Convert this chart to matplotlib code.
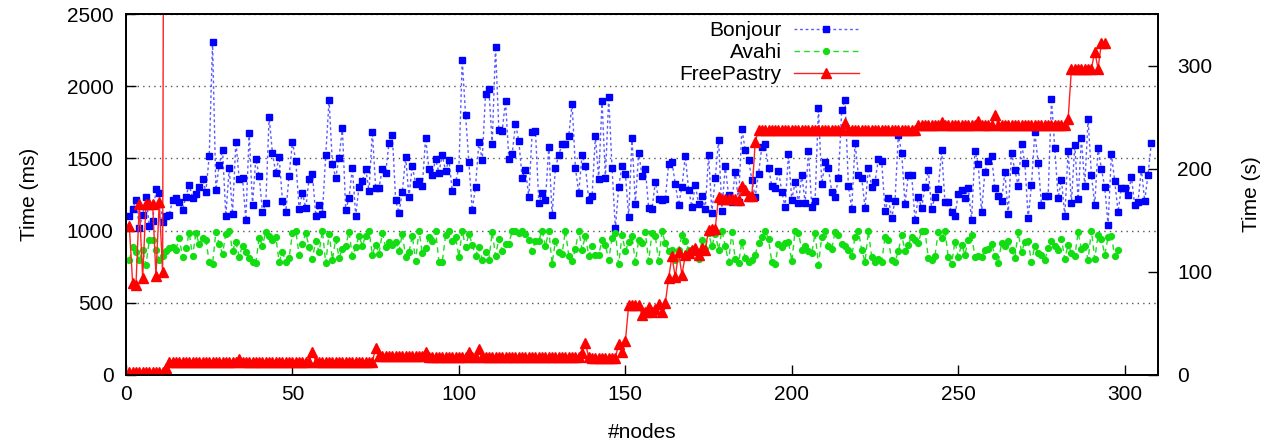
import numpy as np
import matplotlib.pyplot as plt

plt.rcParams['font.family'] = ['Liberation Sans', 'DejaVu Sans']

# Bonjour response time (ms), nodes 1..308
bonjour = [1104, 1150, 1212, 1021, 1109, 1233, 1035, 1069, 1289, 1261,
           1060, 1104, 1111, 1212, 1226, 1199, 1143, 1236, 1316, 1226,
           1254, 1303, 1358, 1268, 1517, 2305, 1282, 1455, 1559, 1102,
           1434, 1115, 1614, 1358, 1365, 1074, 1675, 1178, 1497, 1379,
           1129, 1192, 1788, 1534, 1400, 1510, 1206, 1132, 1381, 1614,
           1483, 1150, 1261, 1157, 1360, 1393, 1104, 1178, 1118, 1524,
           1906, 1462, 1365, 1506, 1711, 1143, 1226, 1434, 1104, 1303,
           1344, 1427, 1275, 1684, 1296, 1296, 1427, 1400, 1607, 1663,
           1212, 1122, 1268, 1510, 1233, 1448, 1323, 1344, 1310, 1642,
           1427, 1388, 1497, 1400, 1524, 1413, 1490, 1275, 1337, 1434,
           2183, 1802, 1476, 1143, 1305, 1614, 1490, 1947, 1982, 1600,
           2273, 1700, 1691, 1899, 1497, 1531, 1739, 1621, 1365, 1420,
           1233, 1684, 1691, 1192, 1261, 1212, 1580, 1109, 1434, 1524,
           1600, 1600, 1656, 1880, 1434, 1261, 1524, 1448, 1212, 1240,
           1654, 1358, 1899, 1365, 1926, 1434, 1016, 1305, 1448, 1393,
           1095, 1642, 1185, 1538, 1379, 1427, 1157, 1150, 1337, 1219,
           1212, 1219, 1462, 1476, 1323, 1178, 1303, 1517, 1282, 1166,
           1316, 1185, 1240, 1150, 1524, 1125, 1365, 1628, 1139, 1448,
           1247, 1201, 1407, 1199, 1705, 1559, 1490, 1353, 1233, 1393,
           1580, 1600, 1434, 1310, 1296, 1413, 1268, 1164, 1531, 1212,
           1337, 1192, 1386, 1192, 1552, 1164, 1206, 1850, 1323, 1476,
           1434, 1268, 1233, 1365, 1836, 1906, 1310, 1150, 1607, 1386,
           1365, 1157, 1434, 1303, 1337, 1497, 1483, 1136, 1226, 1088,
           1206, 1663, 1538, 1185, 1386, 1386, 1074, 1233, 1157, 1303,
           1420, 1150, 1233, 1289, 1559, 1199, 1199, 1129, 1102, 1254,
           1282, 1226, 1296, 1074, 1552, 1462, 1129, 1407, 1483, 1517,
           1296, 1240, 1206, 1407, 1115, 1538, 1420, 1310, 1601, 1469,
           1088, 1316, 1684, 1469, 1178, 1240, 1240, 1912, 1573, 1226,
           1351, 1102, 1552, 1192, 1594, 1219, 1642, 1310, 1774, 1386,
           1178, 1573, 1427, 1303, 1039, 1531, 1344, 1129, 1296, 1296,
           1247, 1372, 1178, 1199, 1427, 1206, 1386, 1608]

# Avahi response time (ms), nodes 1..298
avahi = [799, 887, 850, 799, 864, 764, 933, 938, 868, 794,
         827, 857, 880, 887, 868, 949, 815, 880, 984, 822,
         984, 905, 949, 933, 783, 767, 993, 905, 841, 977,
         998, 861, 921, 820, 896, 850, 811, 781, 778, 949,
         896, 993, 961, 938, 956, 785, 850, 783, 811, 984,
         1000, 831, 910, 984, 887, 804, 931, 850, 1000, 774,
         979, 799, 942, 813, 873, 891, 993, 822, 887, 961,
         896, 965, 1000, 834, 903, 841, 982, 887, 919, 900,
         924, 857, 979, 818, 850, 965, 790, 1000, 845, 880,
         956, 926, 1000, 785, 783, 968, 1000, 931, 956, 818,
         1000, 884, 979, 903, 827, 887, 799, 850, 799, 988,
         827, 942, 861, 910, 910, 995, 1000, 984, 1000, 975,
         938, 857, 931, 931, 1000, 891, 1000, 771, 926, 850,
         841, 1000, 827, 787, 873, 1000, 868, 965, 822, 896,
         834, 834, 933, 903, 795, 949, 984, 769, 968, 861,
         919, 965, 781, 933, 915, 991, 787, 984, 961, 787,
         995, 915, 861, 868, 799, 868, 968, 931, 868, 861,
         850, 804, 933, 873, 984, 891, 979, 868, 1000, 896,
         783, 988, 804, 774, 921, 811, 783, 799, 834, 915,
         956, 995, 942, 783, 769, 910, 884, 915, 921, 787,
         1000, 984, 868, 896, 857, 845, 984, 764, 956, 1000,
         891, 873, 991, 972, 910, 896, 864, 827, 954, 1000,
         864, 783, 995, 818, 783, 804, 783, 956, 933, 799,
         783, 857, 968, 861, 903, 956, 938, 915, 1000, 1000,
         811, 799, 827, 991, 949, 1000, 815, 769, 924, 818,
         903, 834, 933, 968, 818, 827, 818, 868, 875, 910,
         827, 776, 915, 896, 931, 868, 811, 988, 852, 921,
         926, 781, 896, 845, 834, 794, 880, 926, 891, 864,
         942, 804, 903, 845, 822, 988, 875, 896, 799, 1000,
         806, 968, 942, 834, 954, 961, 822, 864]

# FreePastry (s): first short run (last point goes off the chart), then the full run
pastry_first = [144.5, 89, 87.5, 166, 94, 166, 166, 166, 96, 168, 99.5, 1350]
pastry = [3, 3, 3, 3, 3, 3, 3, 3, 3, 3,
          3, 7, 13, 13, 13, 13, 13, 13, 13, 13,
          13, 13, 13, 13, 13, 13, 13, 13, 13, 13,
          13, 13, 13, 15.5, 13, 13, 13, 13, 13, 13,
          13, 13, 13, 13, 13, 13, 13, 13, 13, 13,
          13, 13, 13, 13, 13, 22.5, 13, 13, 13, 13,
          13, 13, 13, 13, 13, 13, 13, 13, 13, 13,
          13, 13, 13, 13, 26, 18, 18, 18, 18, 18,
          18, 18, 18, 18, 18, 18, 18, 18, 18, 22.5,
          17.5, 17.5, 17.5, 17.5, 17.5, 17.5, 17.5, 17.5, 17.5, 17.5,
          17.5, 17.5, 22, 17.5, 17.5, 25, 17, 17, 17, 17,
          17, 17, 17, 17, 17, 17, 17, 17, 17, 17,
          17, 17, 17, 17, 17, 17, 17, 17, 17, 17,
          17, 17, 17, 17, 17, 17, 21, 31, 17, 16.5,
          16.5, 16.5, 16.5, 16.5, 16.5, 16.5, 16.5, 30.5, 22, 32.5,
          68, 68, 68, 68, 58, 61, 66, 61, 64, 69,
          61, 70, 94, 115, 95, 119, 97, 116, 118, 121,
          123, 116, 123, 121, 141, 142, 142, 173, 171, 171,
          171, 171, 171, 170, 183, 179, 174, 174, 226, 237.5,
          237.5, 237.5, 237.5, 237.5, 237.5, 237.5, 237.5, 237.5, 237.5, 237.5,
          237.5, 237.5, 237.5, 237.5, 237.5, 237.5, 237.5, 237.5, 237.5, 237.5,
          237.5, 237.5, 237.5, 237.5, 237.5, 244, 237.5, 237.5, 237.5, 237.5,
          237.5, 237.5, 237.5, 237.5, 237.5, 237.5, 237.5, 237.5, 237.5, 237.5,
          237.5, 237.5, 237.5, 237.5, 237.5, 237.5, 237.5, 242.5, 242.5, 242.5,
          242.5, 242.5, 242.5, 242.5, 245.5, 242.5, 242.5, 242.5, 242.5, 242.5,
          242.5, 242.5, 242.5, 242.5, 242.5, 246.5, 242.5, 242.5, 242.5, 242.5,
          252, 242.5, 242.5, 242.5, 242.5, 242.5, 242.5, 242.5, 242.5, 242.5,
          242.5, 242.5, 242.5, 242.5, 242.5, 242.5, 242.5, 242.5, 242.5, 242.5,
          242.5, 242.5, 248, 297, 297, 297, 297, 297, 297, 297,
          313.5, 297, 322, 322]

x_bonjour = np.arange(1, len(bonjour) + 1)
x_avahi = np.arange(1, len(avahi) + 1)
x_pastry_first = np.arange(1, len(pastry_first) + 1)
x_pastry = np.arange(1, len(pastry) + 1)

fig = plt.figure(figsize=(12.69, 4.42), dpi=100)
ax = fig.add_axes([126/1269, 1 - 375/442, (1158 - 126)/1269, (375 - 14)/442])
ax2 = ax.twinx()

l1, = ax.plot(x_bonjour, bonjour, color='#5a5aff', ls=(0, (2, 2)), lw=1,
              marker='s', ms=4.2, mfc='#0000ff', mec='#0000ff', label='Bonjour')
l2, = ax.plot(x_avahi, avahi, color='#22dd22', ls=(0, (4, 3)), lw=1,
              marker='o', ms=4.2, mfc='#11dd11', mec='#11dd11', label='Avahi')
ax2.plot(x_pastry_first, pastry_first, color='#ff2020', lw=1,
         marker='^', ms=6.5, mfc='#ff0000', mec='#ff0000')
l3, = ax2.plot(x_pastry, pastry, color='#ff2020', lw=1,
               marker='^', ms=6.5, mfc='#ff0000', mec='#ff0000', label='FreePastry')

ax.set_xlim(0, 310)
ax.set_ylim(0, 2500)
ax2.set_ylim(0, 350)
ax.set_xticks(np.arange(0, 301, 50))
ax.set_yticks(np.arange(0, 2501, 500))
ax2.set_yticks([0, 100, 200, 300])

ax.yaxis.grid(True, color='#555555', ls=(0, (1, 3)), lw=1)
ax.set_axisbelow(True)

ax.tick_params(axis='x', direction='in', length=7, width=1, labelsize=15, pad=7)
ax.tick_params(axis='y', direction='in', length=7, width=1, labelsize=15, pad=9)
ax2.tick_params(axis='y', direction='in', length=7, width=1, labelsize=15, pad=14)
for a in (ax, ax2):
    for s in a.spines.values():
        s.set_linewidth(1.3)

ax.set_xlabel('#nodes', fontsize=15, labelpad=14)
ax.set_ylabel('Time (ms)', fontsize=15, labelpad=20)
ax2.set_ylabel('Time (s)', fontsize=15, labelpad=21)

leg = ax2.legend(handles=[l1, l2, l3], loc='upper right', bbox_to_anchor=(0.722, 1.015),
                 frameon=False, markerfirst=False, fontsize=15, handlelength=3.1,
                 labelspacing=0.15, handletextpad=0.6, borderaxespad=0.2)

fig.savefig('out.png', dpi=100)
